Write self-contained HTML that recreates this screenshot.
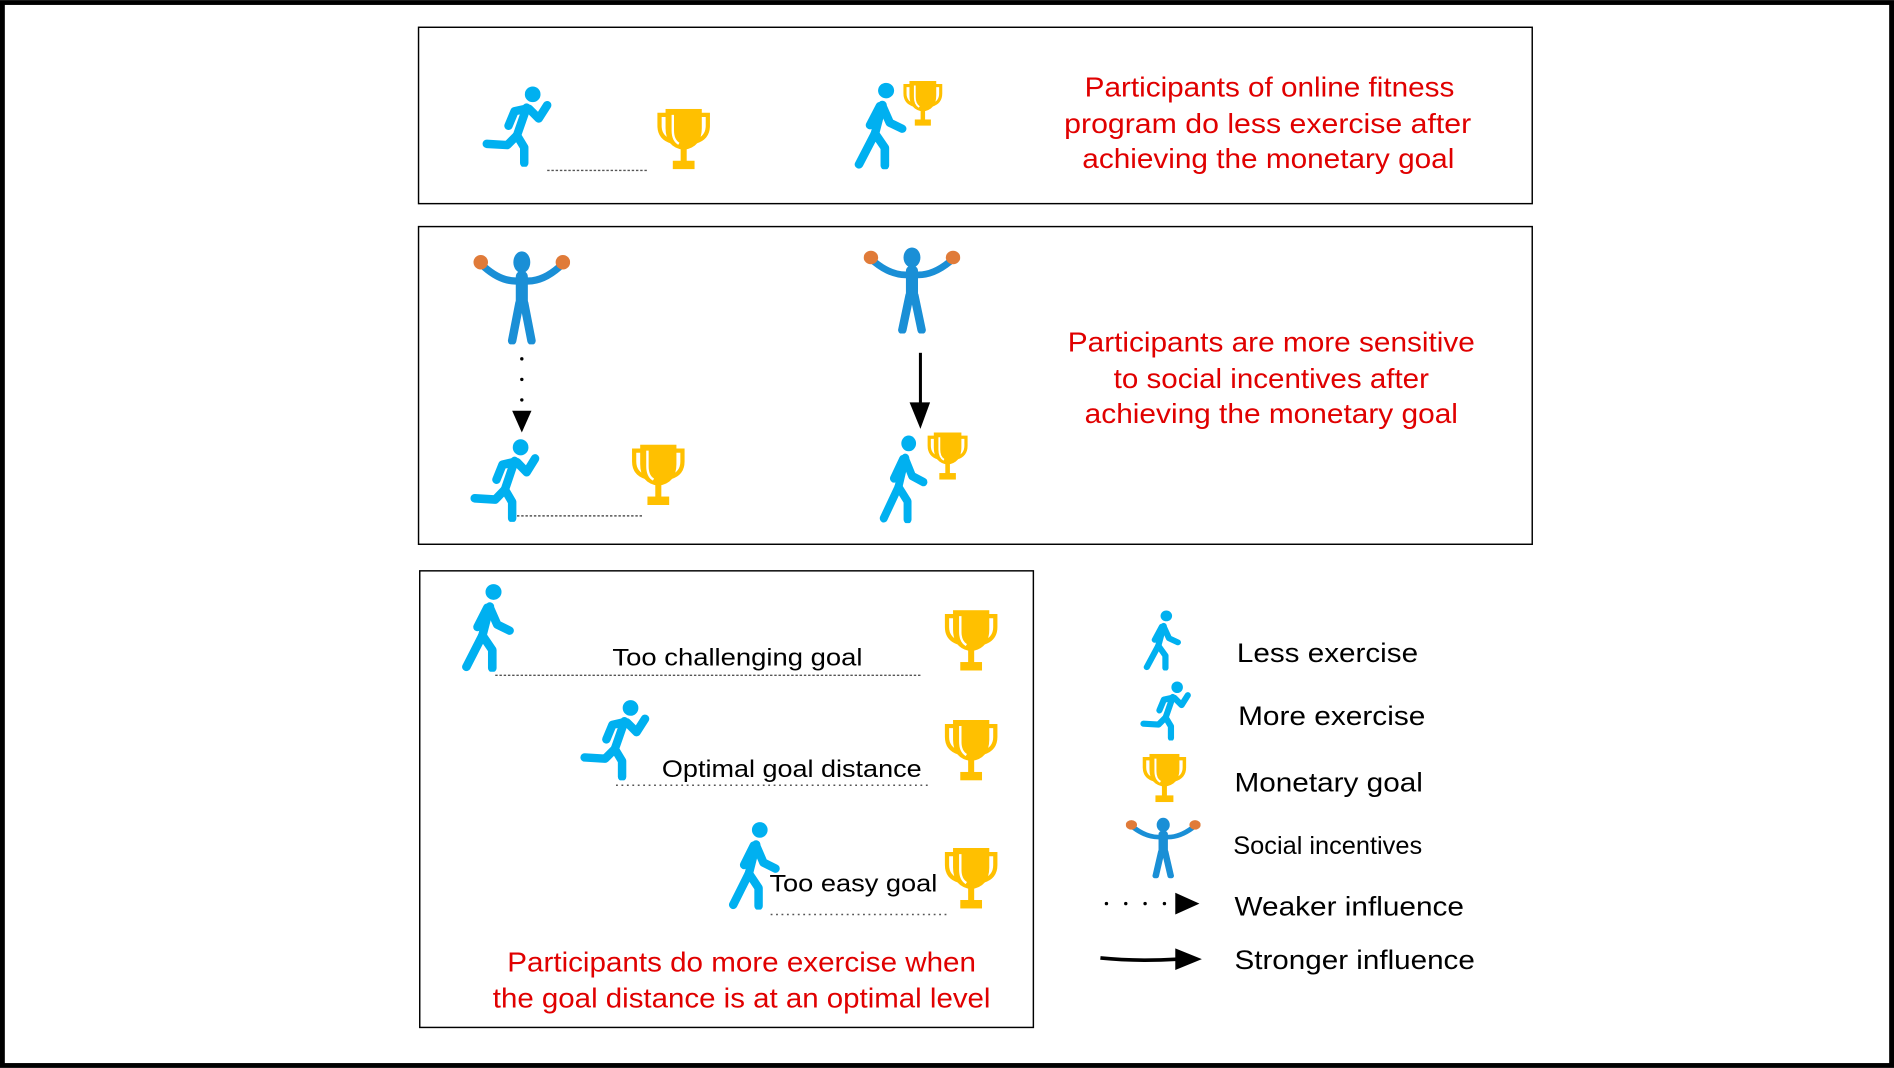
<!DOCTYPE html>
<html><head><meta charset="utf-8"><style>
html,body{margin:0;padding:0;background:#fff;}
svg{display:block;}
text{font-family:"Liberation Sans",sans-serif;}
</style></head><body>
<svg width="1894" height="1068" viewBox="0 0 1568 884" xmlns="http://www.w3.org/2000/svg">
<defs>
<symbol id="trophy" viewBox="0 0 46 50" preserveAspectRatio="none">
 <path d="M8 0 H38 V16 Q38 32 23 34 Q8 32 8 16 Z" fill="#ffc000"/>
 <path d="M9 5 H3 V14 Q3 24 13 27 M37 5 H43 V14 Q43 24 33 27" fill="none" stroke="#ffc000" stroke-width="3.5"/>
 <path d="M14 5 V18 Q14 26 19 29" fill="none" stroke="#fff" stroke-width="2"/>
 <rect x="20.5" y="32" width="5" height="12" fill="#ffc000"/>
 <rect x="14" y="43" width="18" height="7" fill="#ffc000"/>
</symbol>
<symbol id="runner" viewBox="0 0 60 68" preserveAspectRatio="none">
 <circle cx="43" cy="8" r="6.5" fill="#00b0f0"/>
 <g fill="none" stroke="#00b0f0" stroke-width="7" stroke-linecap="round" stroke-linejoin="round">
  <path d="M38 19 L30 42"/>
  <path d="M37 20 L28 22 L23 34"/>
  <path d="M40 20 L48 28 L55 17"/>
  <path d="M30 42 L22 50 L5 49"/>
  <path d="M30 42 L36 52 L36 65"/>
 </g>
</symbol>
<symbol id="walker" viewBox="0 0 49 73" preserveAspectRatio="none">
 <circle cx="28" cy="7" r="6.5" fill="#00b0f0"/>
 <g fill="none" stroke="#00b0f0" stroke-width="7" stroke-linecap="round" stroke-linejoin="round">
  <path d="M25 19 L19 43"/>
  <path d="M19 43 L27 55 L27 70"/>
  <path d="M19 43 L6 69"/>
  <path d="M25 20 L31 34 L41 39"/>
  <path d="M23 20 L15 36"/>
 </g>
</symbol>
<symbol id="social" viewBox="0 0 80 80" preserveAspectRatio="none">
 <ellipse cx="40" cy="12" rx="7" ry="9" fill="#1a8fd6"/>
 <g fill="none" stroke="#1a8fd6" stroke-linecap="round" stroke-linejoin="round">
  <path d="M9 16 Q25 30 40 27 Q55 30 71 16" stroke-width="6"/>
  <path d="M40 24 L40 46" stroke-width="10"/>
  <path d="M38 46 L32 77 M42 46 L48 77" stroke-width="7"/>
 </g>
 <circle cx="6" cy="12" r="6" fill="#e07b39"/>
 <circle cx="74" cy="12" r="6" fill="#e07b39"/>
</symbol>
</defs>
<rect x="2" y="2" width="1564" height="880" fill="none" stroke="#000" stroke-width="4"/>
<g fill="none" stroke="#000" stroke-width="1.2">
 <rect x="346.5" y="22.5" width="922" height="146"/>
 <rect x="346.5" y="187.5" width="922" height="263"/>
 <rect x="347.5" y="472.5" width="508" height="378"/>
</g>
<use href="#runner" x="398" y="70" width="60" height="68"/>
<line x1="453" y1="141" x2="536" y2="141" stroke="#555" stroke-width="1.2" stroke-dasharray="2 1.5"/>
<use href="#trophy" x="543" y="90" width="46" height="50"/>
<use href="#walker" x="705" y="68" width="50" height="72"/>
<use href="#trophy" x="747" y="67" width="34" height="37"/>
<g font-size="23" fill="#e00000">
 <text x="898" y="80" textLength="306" lengthAdjust="spacingAndGlyphs">Participants of online fitness</text>
 <text x="881" y="110" textLength="337" lengthAdjust="spacingAndGlyphs">program do less exercise after</text>
 <text x="896" y="139" textLength="308" lengthAdjust="spacingAndGlyphs">achieving the monetary goal</text>
</g>
<use href="#social" x="392" y="205" width="80" height="80"/>
<use href="#social" x="715" y="202" width="80" height="74"/>
<g fill="#000">
 <circle cx="432" cy="297" r="1.4"/><circle cx="432" cy="314" r="1.4"/><circle cx="432" cy="331" r="1.4"/>
 <path d="M424 340 L440 340 L432 358 Z"/>
 <path d="M753 333 L770 333 L762 355 Z"/>
</g>
<line x1="762" y1="292" x2="762" y2="336" stroke="#000" stroke-width="2.5"/>
<use href="#runner" x="388" y="362" width="60" height="70"/>
<line x1="428" y1="427" x2="533" y2="427" stroke="#555" stroke-width="1.2" stroke-dasharray="2 1.5"/>
<use href="#trophy" x="522" y="368" width="46" height="50"/>
<use href="#walker" x="726" y="360" width="46" height="73"/>
<use href="#trophy" x="767" y="358" width="35" height="39"/>
<g font-size="23" fill="#e00000">
 <text x="884" y="291" textLength="337" lengthAdjust="spacingAndGlyphs">Participants are more sensitive</text>
 <text x="922" y="321" textLength="261" lengthAdjust="spacingAndGlyphs">to social incentives after</text>
 <text x="898" y="350" textLength="309" lengthAdjust="spacingAndGlyphs">achieving the monetary goal</text>
</g>
<use href="#walker" x="380" y="483" width="50" height="73"/>
<line x1="410" y1="559" x2="762" y2="559" stroke="#555" stroke-width="1.2" stroke-dasharray="2 1.5"/>
<use href="#trophy" x="781" y="505" width="46" height="50"/>
<use href="#runner" x="479" y="578" width="60" height="68"/>
<line x1="510" y1="650" x2="768" y2="650" stroke="#555" stroke-width="1.2" stroke-dasharray="1.5 3"/>
<use href="#trophy" x="781" y="596" width="46" height="50"/>
<use href="#walker" x="601" y="680" width="49" height="73"/>
<line x1="638" y1="757" x2="785" y2="757" stroke="#555" stroke-width="1.2" stroke-dasharray="1.5 3"/>
<use href="#trophy" x="781" y="702" width="46" height="50"/>
<g font-size="20" fill="#000">
 <text x="507" y="551" textLength="207" lengthAdjust="spacingAndGlyphs">Too challenging goal</text>
 <text x="548" y="643" textLength="215" lengthAdjust="spacingAndGlyphs">Optimal goal distance</text>
 <text x="637" y="738" textLength="139" lengthAdjust="spacingAndGlyphs">Too easy goal</text>
</g>
<g font-size="23" fill="#e00000">
 <text x="420" y="804" textLength="388" lengthAdjust="spacingAndGlyphs">Participants do more exercise when</text>
 <text x="408" y="834" textLength="412" lengthAdjust="spacingAndGlyphs">the goal distance is at an optimal level</text>
</g>
<use href="#walker" x="945" y="505" width="36" height="50"/>
<use href="#runner" x="943" y="563" width="44" height="50"/>
<use href="#trophy" x="945" y="624" width="38" height="40"/>
<use href="#social" x="932" y="675" width="62" height="52"/>
<g fill="#000">
 <circle cx="916" cy="748" r="1.4"/><circle cx="932" cy="748" r="1.4"/><circle cx="948" cy="748" r="1.4"/><circle cx="964" cy="748" r="1.4"/>
 <path d="M973 739 L993 748 L973 757 Z"/>
 <path d="M973 785 L995 794 L973 803 Z"/>
</g>
<path d="M911 793 Q940 796 975 794" fill="none" stroke="#000" stroke-width="3"/>
<g font-size="22" fill="#000">
 <text x="1024" y="548" textLength="150" lengthAdjust="spacingAndGlyphs">Less exercise</text>
 <text x="1025" y="600" textLength="155" lengthAdjust="spacingAndGlyphs">More exercise</text>
 <text x="1022" y="655" textLength="156" lengthAdjust="spacingAndGlyphs">Monetary goal</text>
 <text x="1021" y="707" font-size="21">Social incentives</text>
 <text x="1022" y="758" textLength="190" lengthAdjust="spacingAndGlyphs">Weaker influence</text>
 <text x="1022" y="802" textLength="199" lengthAdjust="spacingAndGlyphs">Stronger influence</text>
</g>
</svg>
</body></html>
